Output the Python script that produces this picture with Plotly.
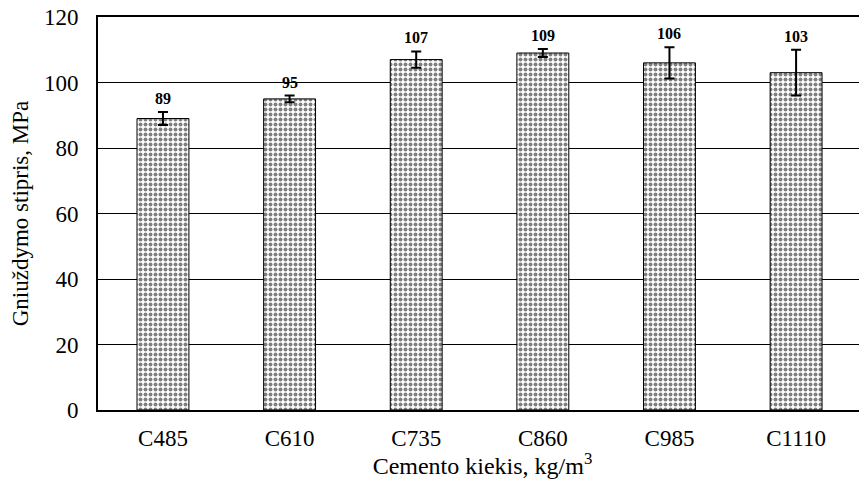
import plotly.graph_objects as go

categories = ["C485", "C610", "C735", "C860", "C985", "C1110"]
strength = [89, 95, 107, 109, 106, 103]
errors = [2.0, 1.0, 2.5, 1.2, 4.8, 7.0]
y_ticks = [0, 20, 40, 60, 80, 100, 120]

font = "Liberation Serif, Times New Roman, serif"

fig = go.Figure()
fig.add_trace(go.Bar(
    x=categories,
    y=strength,
    width=0.41,
    marker=dict(
        color="white",
        line=dict(color="black", width=1),
        pattern=dict(shape=".", fgcolor="black", bgcolor="white",
                     size=5, solidity=0.5, fillmode="overlay"),
    ),
    error_y=dict(type="data", array=errors, visible=True,
                 color="black", thickness=2, width=5),
    showlegend=False,
))

for c, v, e in zip(categories, strength, errors):
    fig.add_annotation(x=c, y=v + e, text=f"<b>{v}</b>", showarrow=False,
                       yanchor="bottom", yshift=3,
                       font=dict(family=font, size=16, color="black"))

# the page body has an 8px margin, so the figure is a bit smaller
fig.update_layout(
    width=859, height=471,
    margin=dict(l=90, r=0, t=9, b=69),
    plot_bgcolor="white", paper_bgcolor="white",
    font=dict(family=font, size=23, color="black"),
    bargap=0.59,
)
fig.update_xaxes(
    range=[-0.513, 5.56], automargin=False,
    showline=True, linecolor="black", linewidth=2, mirror=True,
    ticks="", showgrid=False, ticklabelstandoff=6,
    title=dict(text="Cemento kiekis, kg/m<sup>3</sup>", standoff=9,
               font=dict(size=24)),
)
fig.update_yaxes(
    range=[0, 120], tickvals=y_ticks, automargin=False,
    ticklabeloverflow="allow",
    showline=True, linecolor="black", linewidth=2,
    showgrid=True, gridcolor="black", gridwidth=1,
    ticks="", ticklabelstandoff=13,
    title=dict(text="Gniuždymo stipris, MPa", standoff=16,
               font=dict(size=23)),
)

fig.write_html("out.html")
